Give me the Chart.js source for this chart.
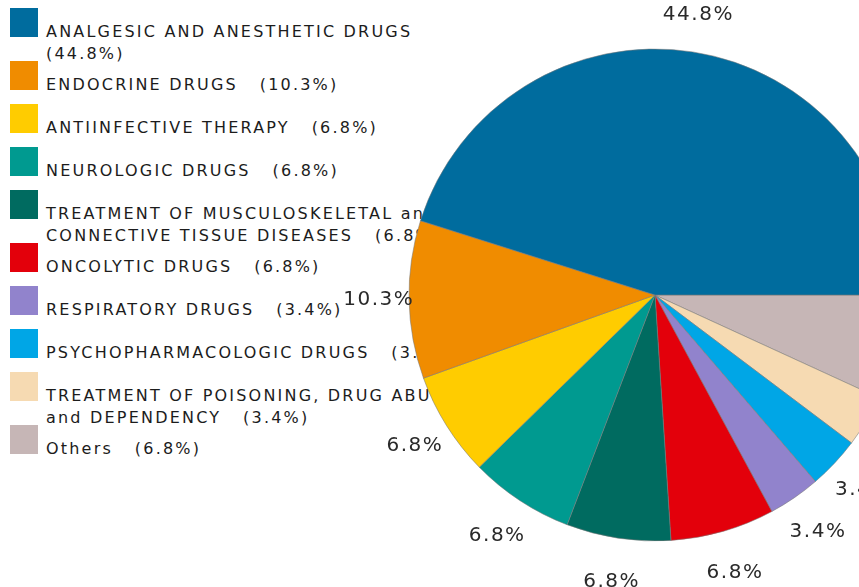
<!DOCTYPE html>
<html>
<head>
<meta charset="utf-8">
<script src="https://cdn.jsdelivr.net/npm/chart.js@4.4.1/dist/chart.umd.min.js"></script>
<style>
  html, body { margin: 0; padding: 0; background: #fff; }
  #wrap { position: relative; width: 859px; height: 587px; overflow: hidden; }
  #legend { position: absolute; left: 0; top: 0; z-index: 1; }
  .item { position: absolute; left: 10px; }
  .swatch { position: absolute; left: 0; top: 0; width: 28px; height: 29px; }
  .txt {
    position: absolute; left: 36px; top: 13px;
    font: 16px "DejaVu Sans", sans-serif; letter-spacing: 2.2px;
    line-height: 22px; color: #1c1c1c; white-space: pre;
  }
  #mycanvas { position: absolute; left: 335px; top: -25px; z-index: 2; }
</style>
</head>
<body>
<div id="wrap">
  <div id="legend"></div>
  <canvas id="mycanvas" width="640" height="640"></canvas>
</div>
<script>
// categories (a trailing "\n" puts the share on its own line in the legend)
var categories = [
  'ANALGESIC AND ANESTHETIC DRUGS\n',
  'ENDOCRINE DRUGS',
  'ANTIINFECTIVE THERAPY',
  'NEUROLOGIC DRUGS',
  'TREATMENT OF MUSCULOSKELETAL and\nCONNECTIVE TISSUE DISEASES',
  'ONCOLYTIC DRUGS',
  'RESPIRATORY DRUGS',
  'PSYCHOPHARMACOLOGIC DRUGS',
  'TREATMENT OF POISONING, DRUG ABUSE\nand DEPENDENCY',
  'Others'
];
var shares = [44.8, 10.3, 6.8, 6.8, 6.8, 6.8, 3.4, 3.4, 3.4, 6.8];
var colors = [
  '#006c9e', '#f08c00', '#ffcc00', '#009a90', '#006b60',
  '#e3000b', '#9183cc', '#00a6e6', '#f6dab2', '#c6b6b6'
];

// legend on the left, drawn under the pie
var legend = document.getElementById('legend');
var itemTop = 8;
for (var i = 0; i < categories.length; i++) {
  var name = categories[i];
  var text = (name.slice(-1) === '\n' ? name : name + '   ') + '(' + shares[i] + '%)';
  var item = document.createElement('div');
  item.className = 'item';
  item.style.top = itemTop + 'px';
  var sw = document.createElement('div');
  sw.className = 'swatch';
  sw.style.background = colors[i];
  var tx = document.createElement('div');
  tx.className = 'txt';
  tx.textContent = text;
  item.appendChild(sw);
  item.appendChild(tx);
  legend.appendChild(item);
  var lines = text.split('\n').length;
  itemTop += 43 + (lines - 1) * 10;
}

// the pie runs counter-clockwise from 3 o'clock, so feed it reversed
var pieData = shares.slice().reverse();
var pieColors = colors.slice().reverse();
var pieLabels = categories.slice().reverse();

var outsideLabels = {
  id: 'outsideLabels',
  afterDatasetsDraw: function(chart) {
    var ctx = chart.ctx;
    var meta = chart.getDatasetMeta(0);
    ctx.save();
    ctx.font = '20px "DejaVu Sans", sans-serif';
    ctx.letterSpacing = '1.5px';
    ctx.fillStyle = '#2a2a2a';
    ctx.textAlign = 'center';
    ctx.textBaseline = 'middle';
    meta.data.forEach(function(arc, k) {
      var mid = (arc.startAngle + arc.endAngle) / 2;
      var s = Math.sin(mid);
      var r = arc.outerRadius + 30 + (s > 0 ? 14 : 8) * Math.abs(s);
      var x = arc.x + Math.cos(mid) * r;
      var y = arc.y + s * r;
      ctx.fillText(pieData[k] + '%', x, y);
    });
    ctx.restore();
  }
};

var ctx = document.getElementById('mycanvas');
var pie = new Chart(ctx, {
  type: 'pie',
  data: {
    labels: pieLabels,
    datasets: [{
      data: pieData,
      backgroundColor: pieColors,
      borderColor: 'rgba(120,120,120,0.55)',
      borderWidth: 1
    }]
  },
  options: {
    responsive: false,
    animation: false,
    rotation: 90,
    radius: 246,
    plugins: {
      legend: { display: false },
      tooltip: { enabled: false }
    }
  },
  plugins: [outsideLabels]
});
</script>
</body>
</html>
